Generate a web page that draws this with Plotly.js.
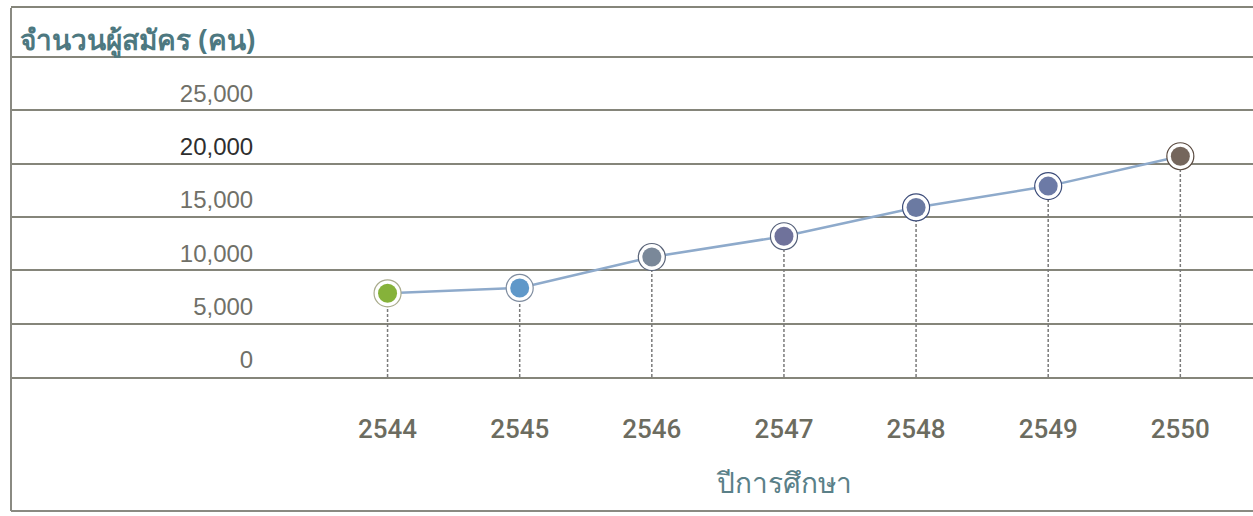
<!DOCTYPE html>
<html>
<head>
<meta charset="utf-8">
<script src="https://cdn.plot.ly/plotly-3.0.1.min.js"></script>
<style>html,body{margin:0;padding:0;background:#fff;}#chart{width:1253px;height:516px;}</style>
</head>
<body>
<div id="chart"></div>
<script>
// ---- data ----
const years = ['2544', '2545', '2546', '2547', '2548', '2549', '2550'];
const applicants = [7850, 8350, 11250, 13200, 15900, 17900, 20700];
const pointColors = ['#86b23a', '#5f98c9', '#7a8899', '#6f729b', '#6b7aa2', '#6c7aa6', '#75665c'];
const ringColors = ['#a9ab8c', '#7f8da0', '#5a6478', '#55607a', '#3d4d7a', '#3d4d7a', '#5a4a40'];
const yTickVals = [0, 5000, 10000, 15000, 20000, 25000, 30000];
const yTickText = ['0', '5,000', '10,000', '15,000', '<span style="color:#2e2e2e">20,000</span>', '25,000', ''];
const yTitle = 'จำนวนผู้สมัคร (คน)';
const xTitle = 'ปีการศึกษา';

const gridColor = '#85857a';
const traces = [];

// dashed drop lines
years.forEach((yr, i) => {
  traces.push({
    x: [yr, yr], y: [0, applicants[i]],
    type: 'scatter', mode: 'lines',
    line: {color: '#7a7a7a', width: 1.5, dash: '3px,2px'},
    hoverinfo: 'skip', showlegend: false
  });
});

// connecting line
traces.push({
  x: years, y: applicants, type: 'scatter', mode: 'lines',
  line: {color: '#8eaacb', width: 2.5}, showlegend: false, hoverinfo: 'skip'
});

// outer ring
traces.push({
  x: years, y: applicants, type: 'scatter', mode: 'markers',
  marker: {size: 27, color: '#ffffff', line: {color: ringColors, width: 1.2}},
  showlegend: false, hoverinfo: 'skip'
});
// inner dot
traces.push({
  x: years, y: applicants, type: 'scatter', mode: 'markers',
  marker: {size: 19, color: pointColors, line: {width: 0}},
  showlegend: false
});

const layout = {
  width: 1253, height: 516,
  margin: {l: 11, r: 0, t: 8, b: 139, pad: 0},
  paper_bgcolor: '#ffffff', plot_bgcolor: '#ffffff',
  showlegend: false,
  title: {
    text: yTitle,
    font: {family: 'Noto Sans, sans-serif', size: 28, color: '#4d7880', weight: 'bold'},
    x: 20 / 1253, xref: 'container', xanchor: 'left',
    y: 1 - 40 / 516, yref: 'container', yanchor: 'middle'
  },
  xaxis: {
    type: 'category',
    range: [-2.85, 6.55],
    showgrid: false, zeroline: false,
    showline: true, mirror: true, linecolor: gridColor, linewidth: 2,
    ticks: '', ticklabelstandoff: 28,
    tickfont: {family: 'Roboto, Liberation Sans, sans-serif', size: 26, color: '#6c6c60', weight: 500}
  },
  yaxis: {
    range: [0, 34600],
    anchor: 'free', position: 0.195,
    tickvals: yTickVals, ticktext: yTickText,
    showgrid: true, gridcolor: gridColor, gridwidth: 2,
    zeroline: false, showline: false, ticks: '',
    ticklabelshift: -17,
    tickfont: {family: 'Liberation Sans, sans-serif', size: 24, color: '#707068'}
  },
  annotations: [{
    text: xTitle, xref: 'x', yref: 'paper', x: 3, y: -0.285,
    xanchor: 'center', yanchor: 'middle', showarrow: false,
    font: {family: 'Noto Sans, sans-serif', size: 28, color: '#5a8088'}
  }],
  shapes: [
    {type: 'line', xref: 'paper', yref: 'paper', x0: 0, x1: 0, y0: 1, y1: -0.363, line: {color: '#8a8a82', width: 2}},
    {type: 'line', xref: 'paper', yref: 'paper', x0: 0, x1: 1, y0: -0.363, y1: -0.363, line: {color: '#8a8a82', width: 2}}
  ]
};

Plotly.newPlot('chart', traces, layout, {displayModeBar: false, staticPlot: true});
</script>
</body>
</html>
